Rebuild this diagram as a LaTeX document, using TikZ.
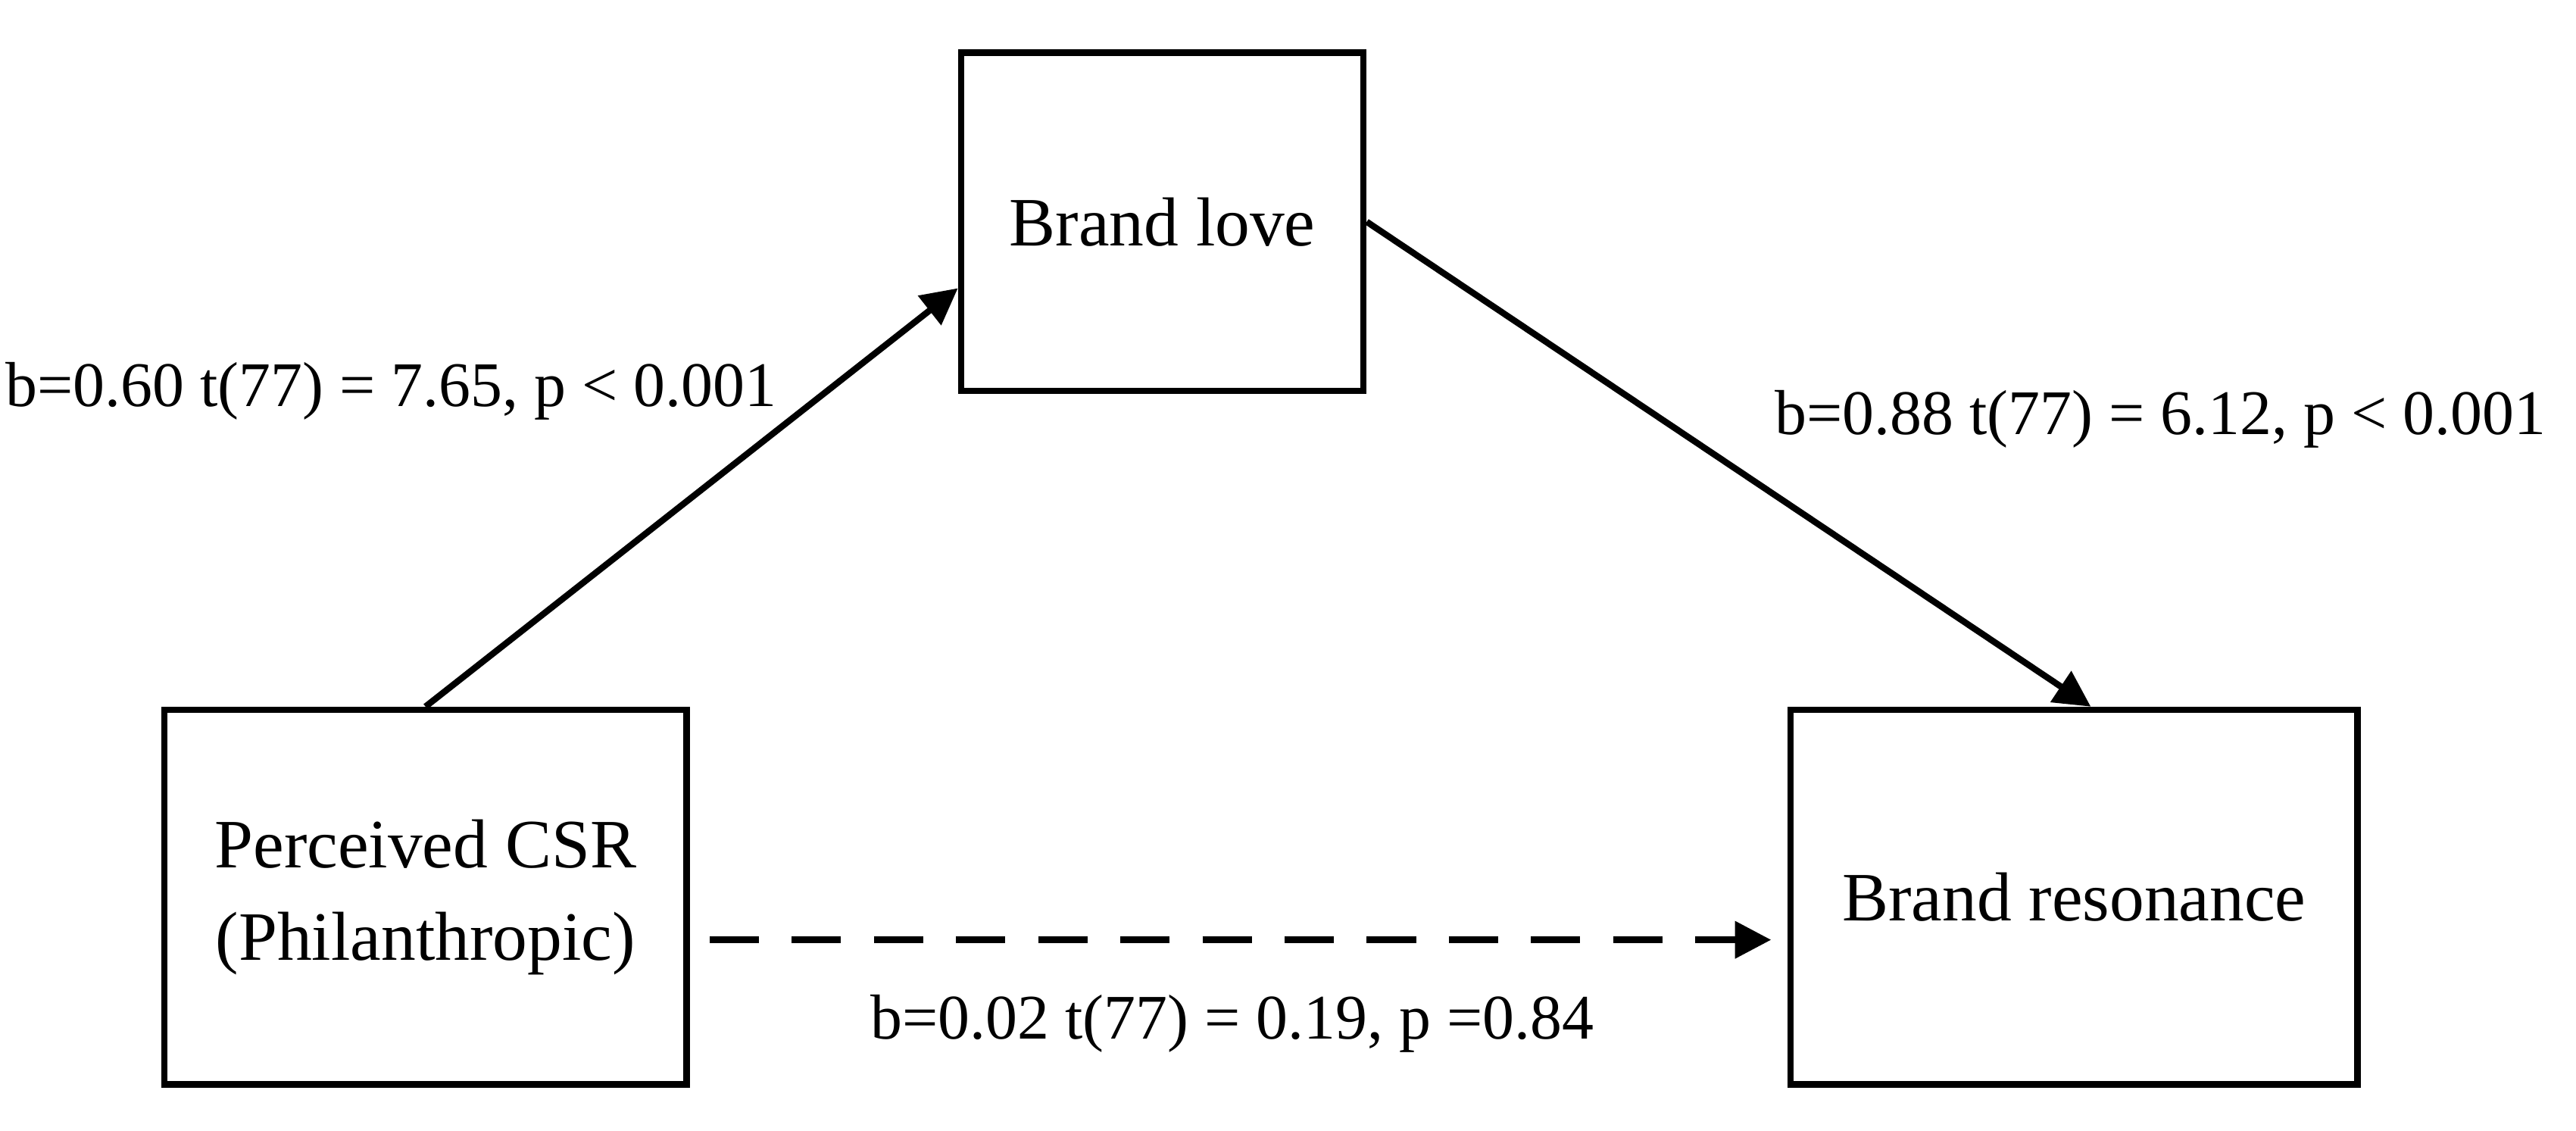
\documentclass[tikz,border=0pt]{standalone}
\usepackage{fontspec}
\setmainfont{Liberation Serif}
\usetikzlibrary{arrows.meta}
\begin{document}
\begin{tikzpicture}[line width=1.1pt,
    box/.style={draw,rectangle,inner sep=0pt,font=\fontsize{12}{14}\selectfont,align=center},
    lbl/.style={font=\fontsize{11}{13}\selectfont,inner sep=0pt},
    tip/.style={-{Triangle[length=2.2mm,width=2.2mm]}}]

            \useasboundingbox (0,0) rectangle (15.68,6.88);

            \path   (7.075,5.53) node (love) [box,minimum width=2.45cm,minimum height=2.06cm] {Brand love}
                    (2.59,1.42) node (csr) [box,minimum width=3.18cm,minimum height=2.28cm] {Perceived CSR\\[2pt](Philanthropic)}
                    (12.625,1.42) node (res) [box,minimum width=3.45cm,minimum height=2.28cm] {Brand resonance};

            \draw[tip] (csr.north) -- (love.198);
            \draw[tip] (love.east) -- (res.85);
            \draw[tip,dashed,dash pattern=on 3mm off 2mm] ([xshift=0.12cm,yshift=-0.26cm]csr.east) -- ([xshift=-0.1cm,yshift=-0.26cm]res.west);

            \node (la) [lbl] at (2.38,4.5) {b=0.60 t(77) = 7.65, p \textless{} 0.001};
            \node (lb) [lbl] at (13.15,4.33) {b=0.88 t(77) = 6.12, p \textless{} 0.001};
            \node (lc) [lbl] at (7.5,0.65) {b=0.02 t(77) = 0.19, p =0.84};
        \end{tikzpicture}
\end{document}
